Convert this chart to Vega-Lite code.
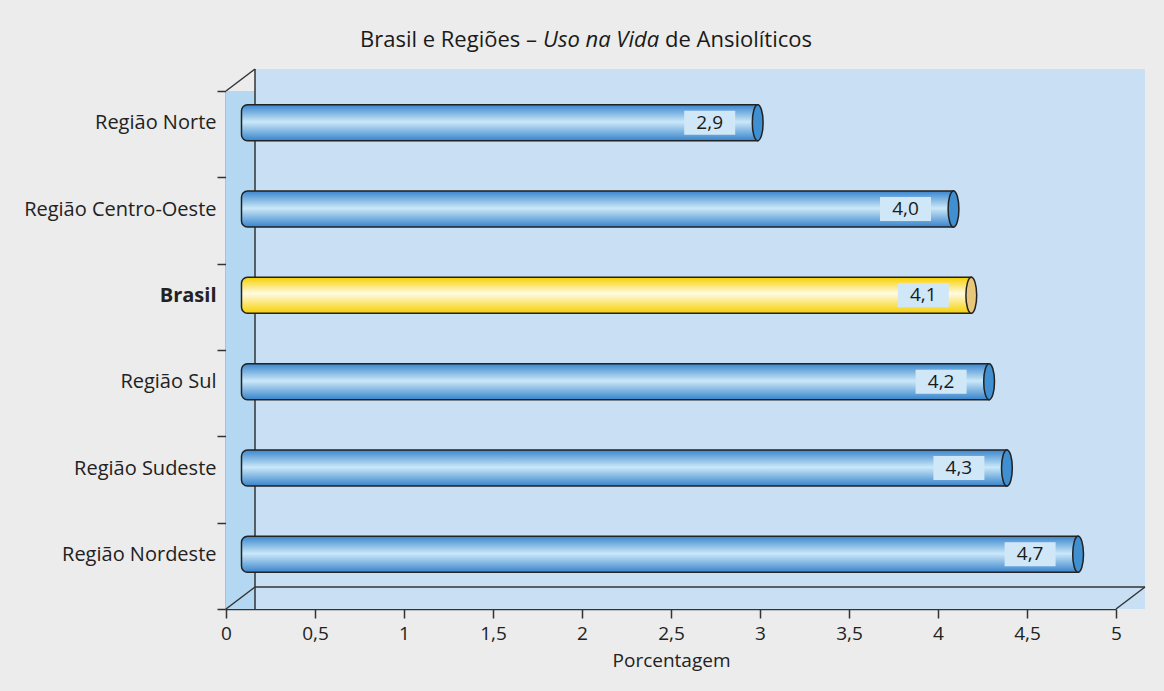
{
  "$schema": "https://vega.github.io/schema/vega-lite/v6.json",
  "width": 890,
  "height": 518,
  "autosize": {"type": "none"},
  "padding": {"left": 226, "top": 91, "right": 48, "bottom": 82},
  "background": "#ebeceb",
  "config": {
    "font": "Open Sans",
    "view": {"stroke": null},
    "axis": {"labelFont": "Open Sans", "labelColor": "#222222", "domainColor": "#333333", "tickColor": "#333333", "domainWidth": 1.5, "tickWidth": 1.5, "titleFont": "Open Sans"}
  },
  "datasets": {
    "dados": [
      {"regiao": "Região Norte", "valor": 2.9},
      {"regiao": "Região Centro-Oeste", "valor": 4.0},
      {"regiao": "Brasil", "valor": 4.1},
      {"regiao": "Região Sul", "valor": 4.2},
      {"regiao": "Região Sudeste", "valor": 4.3},
      {"regiao": "Região Nordeste", "valor": 4.7}
    ]
  },
  "data": {"name": "dados"},
  "layer": [
    {
      "data": {"values": [{"parte": "piso"}]},
      "mark": {"type": "rect", "fill": "#b4d8f2", "x2Offset": 15},
      "encoding": {"x": {"datum": 0, "type": "quantitative"}, "x2": {"datum": 5}}
    },
    {
      "data": {"values": [{"parte": "fundo"}]},
      "mark": {"type": "rect", "fill": "#c8dff4", "xOffset": 29, "x2Offset": 29, "yOffset": -22, "y2Offset": -22},
      "encoding": {"x": {"datum": 0, "type": "quantitative"}, "x2": {"datum": 5}}
    },
    {
      "data": {"values": [{"parte": "aresta"}]},
      "mark": {"type": "rule", "color": "#333333", "strokeWidth": 1.5, "xOffset": 29, "yOffset": -22, "y2Offset": -22},
      "encoding": {"x": {"datum": 0, "type": "quantitative"}}
    },
    {
      "data": {"values": [{"parte": "aresta"}]},
      "mark": {"type": "rule", "color": "#333333", "strokeWidth": 1.5, "xOffset": 29, "x2Offset": 29, "yOffset": -22},
      "encoding": {"x": {"datum": 0, "type": "quantitative"}, "x2": {"datum": 5}, "y": {"datum": "Região Nordeste", "type": "nominal", "bandPosition": 1}}
    },
    {
      "data": {"values": [{"parte": "diagonal"}]},
      "mark": {"type": "rule", "color": "#333333", "strokeWidth": 1.5, "x2Offset": 29, "y2Offset": -22},
      "encoding": {"x": {"datum": 0, "type": "quantitative"}, "x2": {"datum": 0}, "y": {"datum": "Região Norte", "type": "nominal", "bandPosition": 0}, "y2": {"datum": "Região Norte", "bandPosition": 0}}
    },
    {
      "data": {"values": [{"parte": "diagonal"}]},
      "mark": {"type": "rule", "color": "#333333", "strokeWidth": 1.5, "x2Offset": 29, "y2Offset": -22},
      "encoding": {"x": {"datum": 0, "type": "quantitative"}, "x2": {"datum": 0}, "y": {"datum": "Região Nordeste", "type": "nominal", "bandPosition": 1}, "y2": {"datum": "Região Nordeste", "bandPosition": 1}}
    },
    {
      "data": {"values": [{"parte": "diagonal"}]},
      "mark": {"type": "rule", "color": "#333333", "strokeWidth": 1.5, "x2Offset": 29, "y2Offset": -22},
      "encoding": {"x": {"datum": 5, "type": "quantitative"}, "x2": {"datum": 5}, "y": {"datum": "Região Nordeste", "type": "nominal", "bandPosition": 1}, "y2": {"datum": "Região Nordeste", "bandPosition": 1}}
    },
    {
      "transform": [{"filter": "datum.regiao !== 'Brasil'"}],
      "mark": {
        "type": "bar", "height": 36, "yOffset": -11.5, "xOffset": 15.5, "x2Offset": 15.5,
        "fill": {"gradient": "linear", "x1": 0, "y1": 0, "x2": 0, "y2": 1, "stops": [{"offset": 0, "color": "#3a86ce"}, {"offset": 0.48, "color": "#cbe8f8"}, {"offset": 1, "color": "#3784cc"}]},
        "stroke": "#222222", "strokeWidth": 1.5, "cornerRadiusTopLeft": 6, "cornerRadiusBottomLeft": 6
      },
      "encoding": {
        "y": {
          "field": "regiao", "type": "nominal",
          "scale": {"domain": ["Região Norte", "Região Centro-Oeste", "Brasil", "Região Sul", "Região Sudeste", "Região Nordeste"], "paddingInner": 0, "paddingOuter": 0},
          "axis": {"title": null, "tickBand": "extent", "labelOffset": -11.5, "labelPadding": 1, "tickSize": 9, "labelLimit": 300, "labelFontSize": 20,
            "labelFontWeight": {"condition": {"test": "datum.value === 'Brasil'", "value": "bold"}, "value": "normal"}}
        },
        "x": {
          "field": "valor", "type": "quantitative",
          "scale": {"domain": [0, 5], "nice": false},
          "axis": {"title": "Porcentagem", "values": [0, 0.5, 1, 1.5, 2, 2.5, 3, 3.5, 4, 4.5, 5], "labelExpr": "replace(toString(datum.value), '.', ',')", "labelFlush": false, "grid": false, "tickSize": 9, "labelPadding": 6, "labelFontSize": 19, "titleFontSize": 19, "titleFontWeight": "normal", "titleColor": "#222222", "titlePadding": 8}
        },
        "x2": {"datum": 0}
      }
    },
    {
      "transform": [{"filter": "datum.regiao === 'Brasil'"}],
      "mark": {
        "type": "bar", "height": 36, "yOffset": -11.5, "xOffset": 15.5, "x2Offset": 15.5,
        "fill": {"gradient": "linear", "x1": 0, "y1": 0, "x2": 0, "y2": 1, "stops": [{"offset": 0, "color": "#f8d000"}, {"offset": 0.45, "color": "#fffbe4"}, {"offset": 1, "color": "#f7cf00"}]},
        "stroke": "#222222", "strokeWidth": 1.5, "cornerRadiusTopLeft": 6, "cornerRadiusBottomLeft": 6
      },
      "encoding": {"y": {"field": "regiao", "type": "nominal"}, "x": {"field": "valor", "type": "quantitative"}, "x2": {"datum": 0}}
    },
    {
      "mark": {"type": "point", "shape": "M0,-1A0.3,1,0,1,1,0,1A0.3,1,0,1,1,0,-1Z", "size": 1296, "filled": true, "opacity": 1, "stroke": "#222222", "strokeWidth": 1.5, "xOffset": 15.5, "yOffset": -11.5},
      "encoding": {
        "y": {"field": "regiao", "type": "nominal"},
        "x": {"field": "valor", "type": "quantitative"},
        "fill": {"condition": {"test": "datum.regiao === 'Brasil'", "value": "#e8c67a"}, "value": "#3f8fd1"}
      }
    },
    {
      "mark": {"type": "bar", "height": 24, "yOffset": -11.5, "xOffset": -58, "x2Offset": -7, "fill": "#d0e7f7"},
      "encoding": {"y": {"field": "regiao", "type": "nominal"}, "x": {"field": "valor", "type": "quantitative"}, "x2": {"field": "valor"}}
    },
    {
      "transform": [{"calculate": "replace(format(datum.valor, '.1f'), '.', ',')", "as": "rotulo"}],
      "mark": {"type": "text", "fontSize": 19, "color": "#1a1a1a", "align": "center", "baseline": "middle", "dx": -32.5, "dy": -11.5},
      "encoding": {"y": {"field": "regiao", "type": "nominal"}, "x": {"field": "valor", "type": "quantitative"}, "text": {"field": "rotulo"}}
    },
    {
      "data": {"values": [{"parte": "titulo"}]},
      "mark": {"type": "text", "text": "Brasil e Regiões –", "fontSize": 22, "color": "#1a1a1a", "align": "right", "baseline": "alphabetic", "dx": 311, "dy": -44},
      "encoding": {"x": {"datum": 0, "type": "quantitative"}, "y": {"datum": "Região Norte", "type": "nominal", "bandPosition": 0}}
    },
    {
      "data": {"values": [{"parte": "titulo"}]},
      "mark": {"type": "text", "text": "Uso na Vida", "fontSize": 22, "fontStyle": "italic", "color": "#1a1a1a", "align": "left", "baseline": "alphabetic", "dx": 317, "dy": -44},
      "encoding": {"x": {"datum": 0, "type": "quantitative"}, "y": {"datum": "Região Norte", "type": "nominal", "bandPosition": 0}}
    },
    {
      "data": {"values": [{"parte": "titulo"}]},
      "mark": {"type": "text", "text": "de Ansiolíticos", "fontSize": 22, "color": "#1a1a1a", "align": "left", "baseline": "alphabetic", "dx": 439, "dy": -44},
      "encoding": {"x": {"datum": 0, "type": "quantitative"}, "y": {"datum": "Região Norte", "type": "nominal", "bandPosition": 0}}
    }
  ]
}
